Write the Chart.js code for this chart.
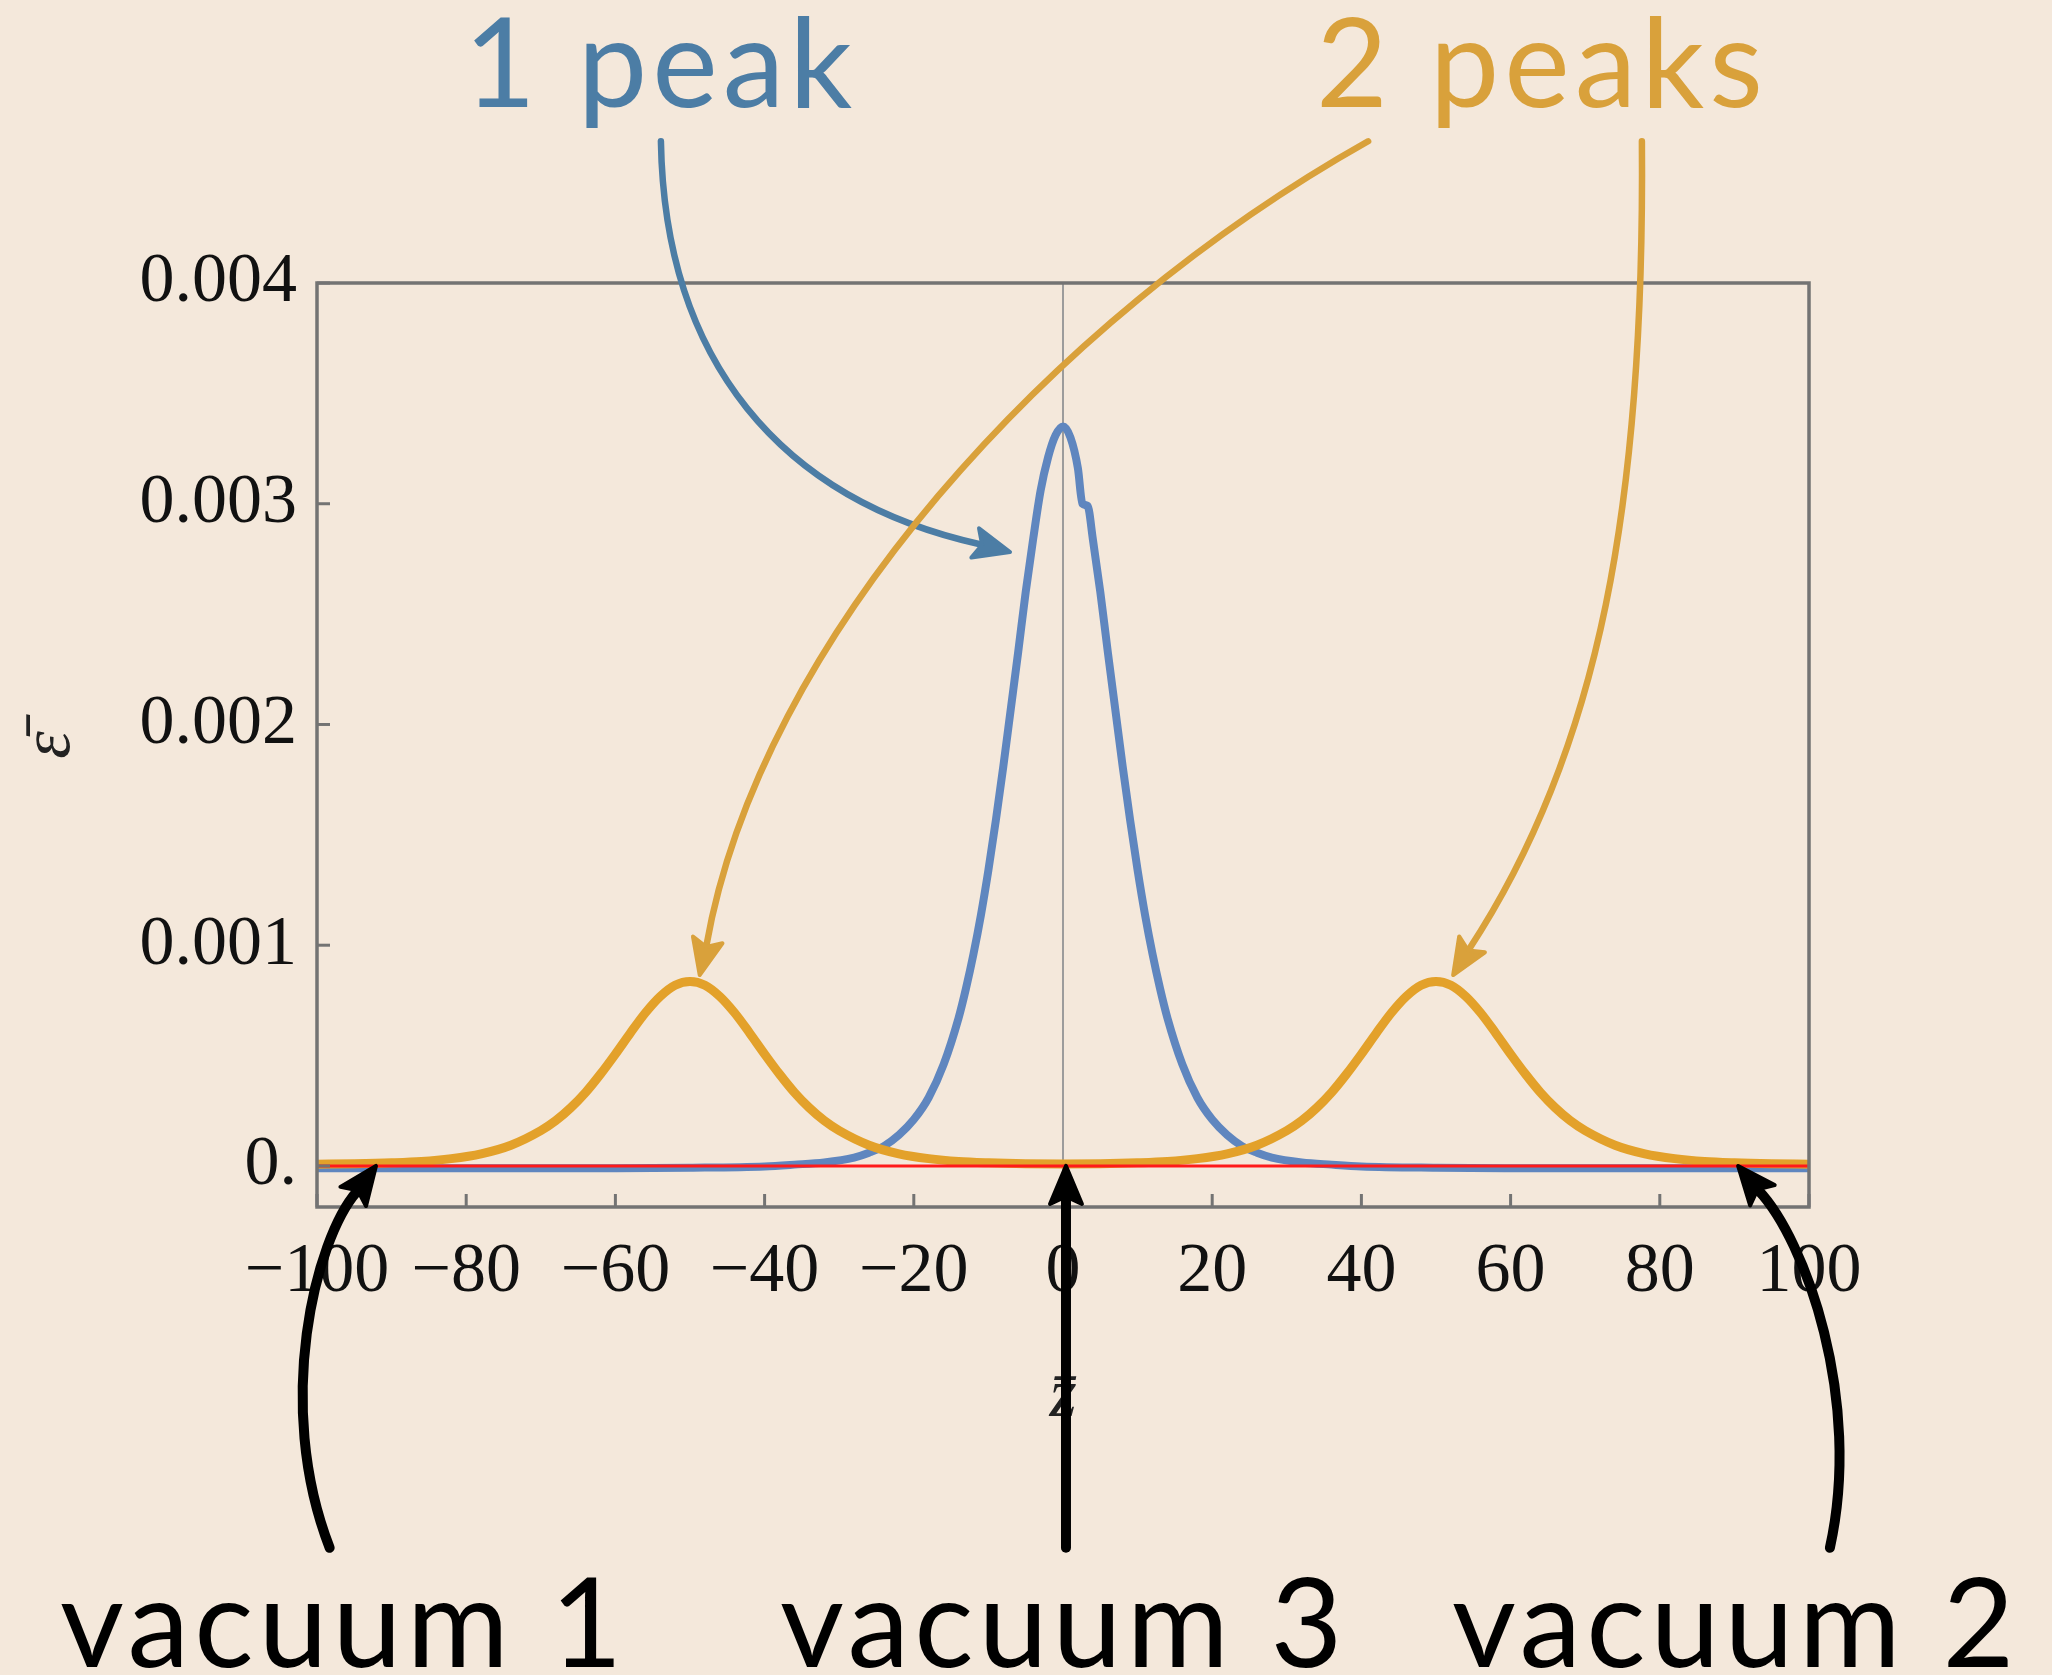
<!DOCTYPE html>
<html>
<head>
<meta charset="utf-8">
<script src="https://cdn.jsdelivr.net/npm/chart.js@4.4.1/dist/chart.umd.min.js"></script>
<style>
    html, body { margin: 0; padding: 0; background: #f4e8db; }
    canvas { display: block; }
</style>
</head>
<body>
<canvas id="myChart" width="2052" height="1675"></canvas>
<script>
// values
const blueZ = [-100, -80, -60, -50, -40, -36, -32, -28, -26, -24, -22, -20, -18, -16, -14, -13, -12, -11, -10, -9, -8, -7, -6,
    -5, -4, -3, -2, -1, 0, 1, 2, 2.6, 3.3, 4, 5, 6, 7, 8, 9, 10, 11, 12, 13, 14, 16, 18, 20, 22, 24, 26, 28, 32, 36, 40, 50,
    60, 80, 100]
const blueE = [-0.00001, -0.00001, -0.00001, -0.000008, -0.000002, 0.000006, 0.000016, 0.000038, 0.00006, 0.00009, 0.00014,
    0.00021, 0.00031, 0.00046, 0.00067, 0.000805, 0.00096, 0.001137, 0.00134, 0.001566, 0.00181, 0.00207, 0.00233, 0.0026,
    0.00284, 0.00306, 0.00321, 0.00331, 0.00335, 0.0033, 0.00316, 0.003, 0.00299, 0.00284, 0.0026, 0.00233, 0.00207,
    0.00181, 0.001566, 0.00134, 0.001137, 0.00096, 0.000805, 0.00067, 0.00046, 0.00031, 0.00021, 0.00014, 0.00009,
    0.00006, 0.000038, 0.000016, 0.000006, -0.000002, -0.000008, -0.00001, -0.00001, -0.00001]

const orangeZ = [-100, -95, -90, -86, -82, -78, -74, -70, -68, -66, -64, -62, -60, -58, -56, -54, -52, -50, -48, -46, -44,
    -42, -40, -38, -36, -34, -32, -30, -26, -22, -18, -14, -10, -5, 0, 5, 10, 14, 18, 22, 26, 30, 32, 34, 36, 38, 40, 42,
    44, 46, 48, 50, 52, 54, 56, 58, 60, 62, 64, 66, 68, 70, 74, 78, 82, 86, 90, 95, 100]
const orangeE = [0.000008, 0.00001, 0.000014, 0.00002, 0.000033, 0.000055, 0.000094, 0.00016, 0.000205, 0.000263, 0.000333,
    0.000416, 0.000507, 0.000602, 0.000693, 0.000768, 0.000819, 0.000836, 0.000819, 0.000768, 0.000693, 0.000602, 0.000507,
    0.000416, 0.000333, 0.000263, 0.000205, 0.00016, 0.000094, 0.000055, 0.000033, 0.00002, 0.000014, 0.00001, 0.000009,
    0.00001, 0.000014, 0.00002, 0.000033, 0.000055, 0.000094, 0.00016, 0.000205, 0.000263, 0.000333, 0.000416, 0.000507,
    0.000602, 0.000693, 0.000768, 0.000819, 0.000836, 0.000819, 0.000768, 0.000693, 0.000602, 0.000507, 0.000416, 0.000333,
    0.000263, 0.000205, 0.00016, 0.000094, 0.000055, 0.000033, 0.00002, 0.000014, 0.00001, 0.000008]

const redZ = [-100, 100]
const redE = [0, 0]

const xTickValues = [-100, -80, -60, -40, -20, 0, 20, 40, 60, 80, 100]
const xTickLabels = ['\u2212100', '\u221280', '\u221260', '\u221240', '\u221220', '0', '20', '40', '60', '80', '100']
const yTickValues = [0, 0.001, 0.002, 0.003, 0.004]
const yTickLabels = ['0.', '0.001', '0.002', '0.003', '0.004']

const blueInk = '#4c7da5'
const orangeInk = '#d9a13b'

// arrows, given in data units (z, epsilon), control points may sit outside the frame
const arrows = [
    { color: blueInk, width: 6.5, head: 36, pts: [[-53.9, 0.004642], [-53.4, 0.00365], [-37.9, 0.003016], [-7.1, 0.002781]] },
    { color: orangeInk, width: 6.5, head: 36, pts: [[40.9, 0.004642], [-1.7, 0.003832], [-40.6, 0.002382], [-48.7, 0.000865]] },
    { color: orangeInk, width: 6.5, head: 36, pts: [[77.6, 0.004642], [78.0, 0.003016], [72.0, 0.001884], [52.3, 0.000865]] },
    { color: '#000', width: 10, head: 38, pts: [[-98.3, -0.00173], [-105.8, -0.00108], [-100.2, -0.00033], [-92.1, 0]] },
    { color: '#000', width: 10, head: 38, pts: [[0.4, -0.00173], [0.4, -0.0012], [0.4, -0.0005], [0.4, 0]] },
    { color: '#000', width: 10, head: 38, pts: [[102.8, -0.00173], [107.2, -0.00106], [99.5, -0.000335], [90.5, 0]] }
]

const notes = [
    { text: '1 peak', color: blueInk, x: 464, y: 107 },
    { text: '2 peaks', color: orangeInk, x: 1316, y: 107 },
    { text: 'vacuum 1', color: '#000', x: 60, y: 1667 },
    { text: 'vacuum 3', color: '#000', x: 780, y: 1667 },
    { text: 'vacuum 2', color: '#000', x: 1452, y: 1667 }
]

function toPoints(zs, es) {
    return zs.map((z, i) => ({ x: z, y: es[i] }))
}

function bez(p, t) {
    const u = 1 - t
    return [
        u * u * u * p[0][0] + 3 * u * u * t * p[1][0] + 3 * u * t * t * p[2][0] + t * t * t * p[3][0],
        u * u * u * p[0][1] + 3 * u * u * t * p[1][1] + 3 * u * t * t * p[2][1] + t * t * t * p[3][1]
    ]
}

const framePlugin = {
    id: 'frame',
    afterDatasetsDraw(chart) {
        const { ctx, chartArea: a, scales: { x, y } } = chart
        ctx.save()
        ctx.strokeStyle = '#737373'
        ctx.lineWidth = 3.5
        ctx.strokeRect(a.left, a.top, a.right - a.left, a.bottom - a.top)
        ctx.lineWidth = 3
        x.ticks.forEach(t => {
            const px = x.getPixelForValue(t.value)
            ctx.beginPath()
            ctx.moveTo(px, a.bottom)
            ctx.lineTo(px, a.bottom - 13)
            ctx.stroke()
        })
        y.ticks.forEach(t => {
            const py = y.getPixelForValue(t.value)
            ctx.beginPath()
            ctx.moveTo(a.left, py)
            ctx.lineTo(a.left + 13, py)
            ctx.stroke()
        })
        ctx.restore()
    }
}

const notesPlugin = {
    id: 'notes',
    afterDraw(chart) {
        const { ctx, scales: { x, y } } = chart
        ctx.save()
        ctx.lineCap = 'round'
        ctx.lineJoin = 'round'
        arrows.forEach(ar => {
            const p = ar.pts.map(q => [x.getPixelForValue(q[0]), y.getPixelForValue(q[1])])
            const tip = p[3]
            const near = bez(p, 0.93)
            let dx = tip[0] - near[0]
            let dy = tip[1] - near[1]
            const len = Math.hypot(dx, dy)
            dx /= len
            dy /= len
            const h = ar.head
            const base = [tip[0] - dx * h, tip[1] - dy * h]
            ctx.strokeStyle = ar.color
            ctx.fillStyle = ar.color
            ctx.lineWidth = ar.width
            ctx.beginPath()
            ctx.moveTo(p[0][0], p[0][1])
            ctx.bezierCurveTo(p[1][0], p[1][1], p[2][0], p[2][1], base[0] + dx * 6, base[1] + dy * 6)
            ctx.stroke()
            ctx.beginPath()
            ctx.moveTo(tip[0], tip[1])
            ctx.lineTo(base[0] - dy * h * 0.42, base[1] + dx * h * 0.42)
            ctx.lineTo(base[0] + dx * h * 0.2, base[1] + dy * h * 0.2)
            ctx.lineTo(base[0] + dy * h * 0.42, base[1] - dx * h * 0.42)
            ctx.closePath()
            ctx.lineWidth = 4
            ctx.fill()
            ctx.stroke()
        })
        ctx.font = '400 124px Lato'
        ctx.letterSpacing = '5px'
        ctx.textBaseline = 'alphabetic'
        ctx.textAlign = 'left'
        notes.forEach(n => {
            ctx.fillStyle = n.color
            ctx.fillText(n.text, n.x, n.y)
        })
        ctx.restore()
    }
}

const tickFont = { family: "'Liberation Serif', serif", size: 70 }

// chart.js paints the first dataset on top, so the red vacuum line goes first
new Chart(document.getElementById('myChart'), {
    type: 'line',
    data: {
        datasets: [
            {
                label: 'vacuum',
                data: toPoints(redZ, redE),
                borderColor: '#ff1a1a',
                borderWidth: 3,
                pointRadius: 0
            },
            {
                label: 'two peaks',
                data: toPoints(orangeZ, orangeE),
                borderColor: '#e3a12a',
                borderWidth: 9,
                pointRadius: 0,
                cubicInterpolationMode: 'monotone'
            },
            {
                label: 'one peak',
                data: toPoints(blueZ, blueE),
                borderColor: '#5f86bf',
                borderWidth: 8,
                pointRadius: 0,
                cubicInterpolationMode: 'monotone'
            }
        ]
    },
    options: {
        responsive: false,
        animation: false,
        devicePixelRatio: 1,
        layout: { padding: { top: 283, right: 243, bottom: 0, left: 0 } },
        plugins: { legend: { display: false }, tooltip: { enabled: false } },
        scales: {
            x: {
                type: 'linear',
                min: -100,
                max: 100,
                afterFit: scale => { scale.height = 468 },
                afterBuildTicks: scale => { scale.ticks = xTickValues.map(v => ({ value: v })) },
                ticks: {
                    autoSkip: false,
                    maxRotation: 0,
                    padding: 24,
                    color: '#111',
                    font: tickFont,
                    callback: value => xTickLabels[xTickValues.indexOf(value)]
                },
                grid: {
                    drawTicks: false,
                    lineWidth: 2,
                    color: c => c.tick && c.tick.value === 0 ? '#9c9c9c' : 'rgba(0,0,0,0)'
                },
                border: { display: false },
                title: {
                    display: true,
                    text: 'z\u0304',
                    color: '#222',
                    font: { family: "'Liberation Serif', serif", size: 70, style: 'italic' },
                    padding: { top: 0, bottom: 235 }
                }
            },
            y: {
                type: 'linear',
                min: -0.000186,
                max: 0.004,
                afterFit: scale => { scale.width = 317 },
                afterBuildTicks: scale => { scale.ticks = yTickValues.map(v => ({ value: v })) },
                ticks: {
                    padding: 20,
                    color: '#111',
                    font: tickFont,
                    callback: value => yTickLabels[yTickValues.indexOf(value)]
                },
                grid: { display: false, drawTicks: false },
                border: { display: false },
                title: {
                    display: true,
                    text: '\u03b5\u0304',
                    color: '#222',
                    font: { family: "'Liberation Serif', serif", size: 70, style: 'italic' },
                    padding: { top: 9, bottom: 0 }
                }
            }
        }
    },
    plugins: [framePlugin, notesPlugin]
})
</script>
</body>
</html>
